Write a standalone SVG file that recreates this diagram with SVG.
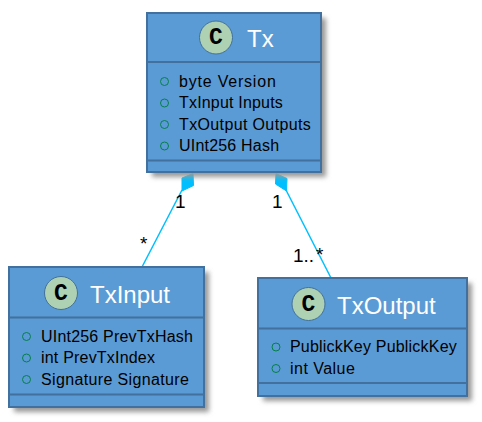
<svg xmlns="http://www.w3.org/2000/svg" width="482" height="422" viewBox="0 0 482 422">
<style>
.box{fill:#5B9BD5;stroke:#41719C;stroke-width:2}
.sep{stroke:#41719C;stroke-width:2;fill:none}
.shadow{fill:#999}
.circ{fill:#ADD1B2;stroke:#41719C;stroke-width:1}
.cl{font:bold 23px "Liberation Mono",monospace;fill:#000;text-anchor:middle}
.title{font:24px "Liberation Sans",Arial,sans-serif;fill:#fff}
.m{font:16px "Liberation Sans",Arial,sans-serif;fill:#000;letter-spacing:.2px}
.vis{fill:none;stroke:#038048;stroke-width:1}
.lab{font:19px "Liberation Sans",Arial,sans-serif;fill:#000}
.edge{stroke:#00BFFF;stroke-width:1.5;fill:none}
.dia{fill:#00BFFF;stroke:#00BFFF;stroke-width:1}
</style>
<defs><filter id="s" x="-10%" y="-10%" width="130%" height="130%"><feGaussianBlur stdDeviation="2.500"/></filter></defs>
<g id="connectors">
<path class="edge" d="M182 190L142 267"/>
<path class="dia" d="M193 173.500L193.500 185.500L182 191L182 178Z"/>
<path class="edge" d="M286 190L331 278"/>
<path class="dia" d="M276 173.500L287 178.500L286.500 191L275.500 184Z"/>
<text class="lab" x="175" y="207.500">1</text>
<text class="lab" x="140" y="250">*</text>
<text class="lab" x="272" y="207.500">1</text>
<text class="lab" x="293" y="261.500">1..</text>
<text class="lab" x="316" y="261">*</text>
</g>
<g id="Tx">
<rect class="shadow" x="152" y="18" width="174" height="159" filter="url(#s)"/>
<rect class="box" x="147" y="13" width="174" height="159"/>
<path class="sep" d="M147 62H321M147 160.500H321"/>
<circle class="circ" cx="216" cy="37.500" r="16.500"/>
<text class="cl" x="216" y="44">C</text>
<text class="title" x="247" y="47">Tx</text>
<circle class="vis" cx="164.500" cy="81.500" r="4"/><text class="m" x="179" y="86.500" textLength="97">byte Version</text>
<circle class="vis" cx="164.500" cy="103" r="4"/><text class="m" x="179" y="108" textLength="104">TxInput Inputs</text>
<circle class="vis" cx="164.500" cy="124.500" r="4"/><text class="m" x="179" y="129.500" textLength="132">TxOutput Outputs</text>
<circle class="vis" cx="164.500" cy="146" r="4"/><text class="m" x="179" y="151">UInt256 Hash</text>
</g>
<g id="TxInput">
<rect class="shadow" x="14" y="272" width="195" height="140" filter="url(#s)"/>
<rect class="box" x="9" y="267" width="195" height="140"/>
<path class="sep" d="M9 317.500H204M9 394.500H204"/>
<circle class="circ" cx="61" cy="293" r="16.500"/>
<text class="cl" x="61" y="299.500">C</text>
<text class="title" x="90" y="303">TxInput</text>
<circle class="vis" cx="26.500" cy="336.500" r="4"/><text class="m" x="41" y="341.500">UInt256 PrevTxHash</text>
<circle class="vis" cx="26.500" cy="358" r="4"/><text class="m" x="41" y="363">int PrevTxIndex</text>
<circle class="vis" cx="26.500" cy="379.500" r="4"/><text class="m" x="41" y="384.500" textLength="148">Signature Signature</text>
</g>
<g id="TxOutput">
<rect class="shadow" x="263" y="283" width="209" height="118" filter="url(#s)"/>
<rect class="box" x="258" y="278" width="209" height="118"/>
<path class="sep" d="M258 328.500H467M258 383H467"/>
<circle class="circ" cx="308.500" cy="304" r="16.500"/>
<text class="cl" x="308.500" y="310.500">C</text>
<text class="title" x="337" y="314">TxOutput</text>
<circle class="vis" cx="276" cy="347" r="4"/><text class="m" x="290" y="352">PublickKey PublickKey</text>
<circle class="vis" cx="276" cy="368.500" r="4"/><text class="m" x="290" y="373.500" textLength="65">int Value</text>
</g>
</svg>
